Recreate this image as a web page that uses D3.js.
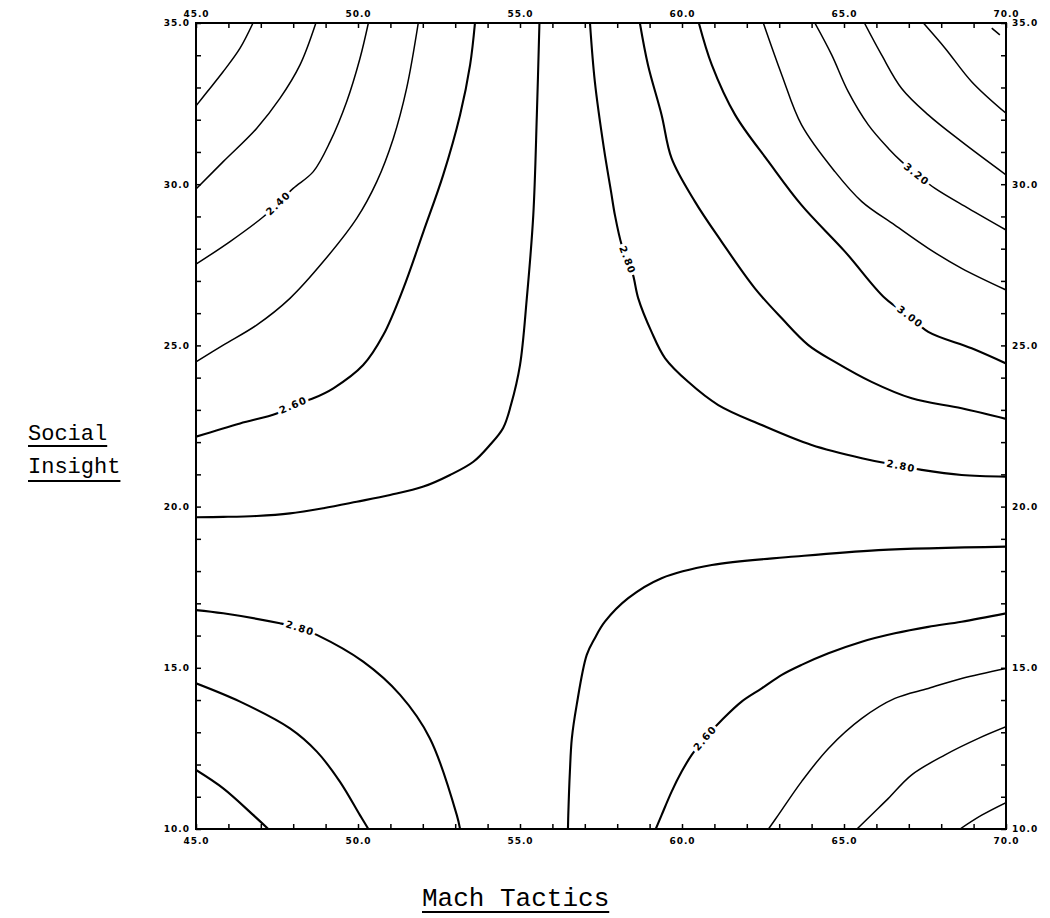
<!DOCTYPE html>
<html><head><meta charset="utf-8">
<script src="https://cdn.jsdelivr.net/npm/d3@7"></script>
<style>body{margin:0;background:#fff}svg{display:block}</style>
</head><body>
<svg id="chart" width="1050" height="918"></svg>
<script>
// ---- axes ----
const xDomain = [45, 70];
const yDomain = [10, 35];
const xTicks = d3.range(45, 71, 1);
const yTicks = d3.range(10, 36, 1);
const xTitle = "Mach Tactics";
const yTitle = ["Social", "Insight"];

// ---- contour lines (Mach Tactics, Social Insight) ----
const line220 = [[46.76,35],[46.36,34.22],[45.83,33.48],[45.34,32.86],[45,32.43]];
const line230 = [[48.70,35],[48.21,33.70],[47.59,32.66],[46.87,31.73],[45.84,30.70],[45,29.85]];
const line240 = [[50.32,35],[50.06,33.90],[49.65,32.56],[49.14,31.32],[48.62,30.39],[48.00,29.87],[47.54,29.41],[47.08,28.99],[46.05,28.22],[45,27.52]];
const line250 = [[51.86,35],[51.50,32.97],[51.09,31.42],[50.58,30.08],[49.96,28.94],[48.93,27.60],[47.90,26.46],[46.87,25.63],[45.84,25.01],[45,24.49]];
const line260a = [[53.61,35],[53.46,33.70],[53.15,32.15],[52.63,30.29],[52.02,28.53],[51.40,26.77],[50.78,25.32],[50.16,24.39],[49.24,23.67],[48.62,23.36],[48.00,23.15],[47.49,22.89],[46.36,22.58],[45,22.17]];
const line270a = [[55.60,35],[55.52,32.15],[55.41,29.04],[55.21,26.46],[55.00,24.39],[54.72,23.15],[54.48,22.44],[54.07,21.91],[53.56,21.39],[52.84,20.98],[52.02,20.62],[50.99,20.36],[49.96,20.15],[48.93,19.95],[47.90,19.79],[46.87,19.71],[45.84,19.68],[45,19.67]];
const line280a = [[57.16,35],[57.31,33.18],[57.59,31.11],[57.81,29.77],[57.93,29.04],[58.14,28.11],[58.32,27.65],[58.49,27.18],[58.65,26.46],[59.06,25.42],[59.48,24.60],[60.19,23.87],[61.12,23.15],[62.46,22.53],[64.00,21.91],[65.55,21.50],[66.76,21.26],[67.40,21.14],[68.63,20.98],[70,20.93]];
const line290a = [[58.70,35],[58.95,33.70],[59.37,32.15],[59.68,30.80],[60.40,29.46],[61.22,28.22],[62.25,26.77],[63.08,25.84],[63.90,25.01],[64.72,24.49],[65.85,23.87],[67.09,23.36],[68.63,23.05],[70,22.72]];
const line300a = [[60.52,35],[60.92,33.70],[61.64,32.15],[62.67,30.70],[63.69,29.35],[65.03,27.91],[66.27,26.46],[67.04,25.89],[67.60,25.42],[68.94,24.91],[70,24.44]];
const line310 = [[62.51,35],[63.08,33.39],[63.69,31.84],[64.72,30.39],[65.55,29.46],[66.57,28.73],[67.60,28.01],[68.63,27.39],[70,26.72]];
const line320 = [[64.10,35],[64.62,34.01],[65.13,32.87],[65.75,31.84],[66.37,31.11],[66.78,30.70],[67.24,30.31],[67.81,29.87],[68.84,29.25],[70,28.58]];
const line330 = [[65.63,35],[66.16,34.01],[66.78,32.97],[67.60,32.15],[68.63,31.32],[70,30.29]];
const line340 = [[67.45,35],[68.12,34.22],[68.94,33.18],[70,32.20]];
const line350 = [[69.56,34.84],[69.81,34.63]];
const line280b = [[45,16.79],[45.84,16.69],[47.59,16.38],[48.21,16.23],[48.73,16.02],[50.16,15.19],[51.30,14.16],[52.22,12.81],[53.05,10.43],[53.15,10]];
const line290b = [[45,14.52],[46.36,13.95],[47.90,13.12],[48.73,12.40],[49.44,11.47],[50.06,10.43],[50.32,10]];
const line300b = [[45,11.83],[45.84,11.26],[46.77,10.43],[47.23,10]];
const line270b = [[56.48,10],[56.49,10.43],[56.54,11.78],[56.60,12.81],[56.75,13.85],[57.06,15.40],[57.31,15.92],[57.62,16.43],[58.34,17.16],[59.37,17.78],[60.92,18.19],[63.49,18.45],[66.06,18.65],[70,18.76]];
const line260b = [[59.19,10],[59.37,10.43],[59.68,11.16],[59.99,11.78],[60.30,12.30],[60.71,12.82],[61.23,13.38],[61.84,13.95],[62.46,14.36],[63.08,14.78],[63.69,15.09],[64.52,15.45],[65.55,15.81],[66.57,16.07],[67.60,16.27],[68.63,16.43],[70,16.69]];
const line250b = [[62.67,10],[62.97,10.43],[63.69,11.47],[64.52,12.50],[65.55,13.43],[66.57,14.05],[67.60,14.36],[68.63,14.67],[70,14.98]];
const line240b = [[65.40,10],[65.90,10.49],[66.37,10.95],[67.09,11.68],[68.12,12.30],[69.15,12.81],[70,13.17]];
const line230b = [[68.58,10],[69.25,10.43],[70,10.82]];

const contourLevels = [2.2,2.3,2.4,2.5,2.6,2.7,2.8,2.9,3.0,3.1,3.2,3.3,3.4,3.5,2.8,2.9,3.0,2.7,2.6,2.5,2.4,2.3];
const contourLines = [line220,line230,line240,line250,line260a,line270a,line280a,line290a,line300a,line310,line320,line330,line340,line350,line280b,line290b,line300b,line270b,line260b,line250b,line240b,line230b];

// ---- contour labels ----
const labelText = ["2.40","2.60","2.80","2.80","3.00","3.20","2.80","2.60"];
const labelLine = [2, 4, 6, 6, 8, 10, 14, 18];
const labelX = [47.54, 48.00, 58.32, 66.76, 67.04, 67.24, 48.21, 60.71];
const labelY = [29.41, 23.15, 27.65, 21.26, 25.89, 30.31, 16.23, 12.82];

// ---- drawing ----
const svg = d3.select("#chart");
const L = 196, R = 1006, T = 23, B = 829;
const x = d3.scaleLinear().domain(xDomain).range([L, R]);
const y = d3.scaleLinear().domain(yDomain).range([B, T]);

svg.append("defs").append("clipPath").attr("id","plotclip")
  .append("rect").attr("x",L).attr("y",T).attr("width",R-L).attr("height",B-T);

const lineGen = d3.line().x(d=>x(d[0])).y(d=>y(d[1])).curve(d3.curveCatmullRom.alpha(0.5));
const thick = v => (v >= 2.6 && v <= 3.0);

const g = svg.append("g").attr("clip-path","url(#plotclip)");
g.selectAll("path.c").data(contourLines).join("path")
  .attr("class","c")
  .attr("d", lineGen)
  .attr("fill","none")
  .attr("stroke","#000")
  .attr("stroke-width",(d,i)=> thick(contourLevels[i]) ? 2.1 : 1.5)
  .attr("stroke-linejoin","round");

// labels
labelText.forEach((t,i)=>{
  const pts = contourLines[labelLine[i]];
  const px = x(labelX[i]), py = y(labelY[i]);
  let best = 0, bd = Infinity;
  pts.forEach((p,j)=>{ const d = (x(p[0])-px)**2 + (y(p[1])-py)**2; if (d<bd){bd=d;best=j;} });
  const a = pts[Math.max(0,best-1)], b = pts[Math.min(pts.length-1,best+1)];
  let ang = Math.atan2(y(b[1])-y(a[1]), x(b[0])-x(a[0])) * 180/Math.PI;
  if (ang > 90) ang -= 180;
  if (ang < -90) ang += 180;
  g.append("text")
    .attr("transform",`translate(${px},${py}) rotate(${ang})`)
    .attr("text-anchor","middle").attr("dy","0.35em")
    .attr("font-family","DejaVu Sans").attr("font-weight","bold")
    .attr("font-size",10).attr("letter-spacing",1.2)
    .attr("stroke","#fff").attr("stroke-width",6).attr("paint-order","stroke")
    .attr("fill","#000").text(t);
});

// axes
const fmt = d => (d % 5 === 0) ? d3.format(".1f")(d) : "";
function styleAxis(sel){
  sel.select(".domain").remove();
  sel.selectAll(".tick line").attr("stroke","#000").attr("stroke-width",1.5);
  sel.selectAll(".tick text").attr("font-family","DejaVu Sans").attr("font-weight","bold")
    .attr("font-size",9).attr("letter-spacing",1).attr("fill","#000");
}
svg.append("g").attr("transform",`translate(0,${B})`)
  .call(d3.axisBottom(x).tickValues(xTicks).tickSize(-5).tickPadding(9).tickFormat(fmt)).call(styleAxis);
svg.append("g").attr("transform",`translate(0,${T})`)
  .call(d3.axisTop(x).tickValues(xTicks).tickSize(-5).tickPadding(6).tickFormat(fmt)).call(styleAxis);
svg.append("g").attr("transform",`translate(${L},0)`)
  .call(d3.axisLeft(y).tickValues(yTicks).tickSize(-5).tickPadding(6).tickFormat(fmt)).call(styleAxis);
svg.append("g").attr("transform",`translate(${R},0)`)
  .call(d3.axisRight(y).tickValues(yTicks).tickSize(-5).tickPadding(6).tickFormat(fmt)).call(styleAxis);

svg.append("rect").attr("x",L).attr("y",T).attr("width",R-L).attr("height",B-T)
  .attr("fill","none").attr("stroke","#000").attr("stroke-width",2);

// titles
function underlined(txt, tx, ty, anchor, size, gap){
  const t = svg.append("text").attr("x",tx).attr("y",ty).attr("text-anchor",anchor)
    .attr("font-family","Liberation Mono").attr("font-size",size).attr("fill","#000").text(txt);
  const bb = t.node().getBBox();
  svg.append("line").attr("x1",bb.x).attr("x2",bb.x+bb.width)
    .attr("y1",ty+gap).attr("y2",ty+gap).attr("stroke","#000").attr("stroke-width",2);
}
underlined(yTitle[0], 28, 440, "start", 22, 6);
underlined(yTitle[1], 28, 473, "start", 22, 8);
underlined(xTitle, 422, 906, "start", 26, 6);
</script>
</body></html>
